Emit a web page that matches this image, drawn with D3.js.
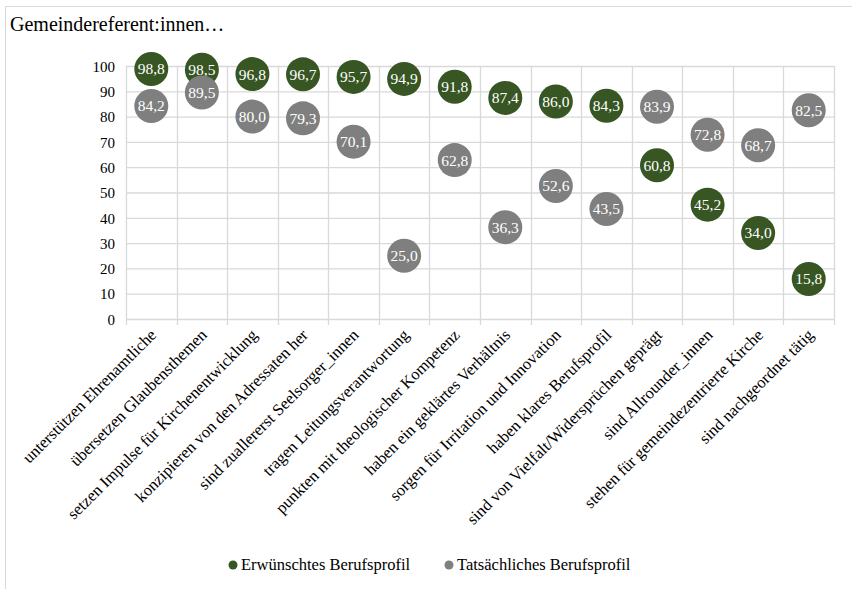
<!DOCTYPE html>
<html><head><meta charset="utf-8">
<script src="https://cdn.jsdelivr.net/npm/d3@7"></script>
<style>body{margin:0;background:#fff}svg{display:block}svg text{font-family:"Liberation Serif","Times New Roman",serif !important}</style>
</head><body><svg id="c" width="852" height="589"></svg>
<script>
const categories = ["unterstützen Ehrenamtliche","übersetzen Glaubensthemen","setzen Impulse für Kirchenentwicklung","konzipieren von den Adressaten her","sind zuallererst Seelsorger_innen","tragen Leitungsverantwortung","punkten mit theologischer Kompetenz","haben ein geklärtes Verhältnis","sorgen für Irritation und Innovation","haben  klares Berufsprofil","sind von Vielfalt/Widersprüchen geprägt","sind Allrounder_innen","stehen für gemeindezentrierte Kirche","sind nachgeordnet tätig"];
const desired = [98.8,98.5,96.8,96.7,95.7,94.9,91.8,87.4,86.0,84.3,60.8,45.2,34.0,15.8];
const actual = [84.2,89.5,80.0,79.3,70.1,25.0,62.8,36.3,52.6,43.5,83.9,72.8,68.7,82.5];
const yTicks = [0,10,20,30,40,50,60,70,80,90,100];
const seriesNames = ["Erwünschtes Berufsprofil","Tatsächliches Berufsprofil"];
const colors = ["#375623","#7f7f7f"];

const svg = d3.select("#c");
svg.append("path").attr("d","M5.5,589 V6.5 H852").attr("fill","none").attr("stroke","#d9d9d9");
svg.append("text").attr("x",10).attr("y",31).attr("font-size",20).attr("fill","#000").text("Gemeindereferent:innen…");

const x = d3.scaleBand().domain(categories).range([126,834]).padding(0);
const y = d3.scaleLinear().domain([0,100]).range([319,66]);
const grid = "#d9d9d9";

svg.append("g").selectAll("line").data(yTicks).join("line")
  .attr("x1",126).attr("x2",834).attr("y1",d=>y(d)+0.5).attr("y2",d=>y(d)+0.5)
  .attr("stroke",grid).attr("stroke-width",1.3);
const bounds = categories.map(c=>x(c)).concat([x.range()[1]]);
svg.append("g").selectAll("line").data(bounds).join("line")
  .attr("x1",d=>Math.round(d)+0.5).attr("x2",d=>Math.round(d)+0.5).attr("y1",y(100)).attr("y2",y(0)+6)
  .attr("stroke",grid).attr("stroke-width",1.3);

const yAxis = d3.axisLeft(y).tickValues(yTicks).tickSize(0).tickPadding(11);
const gy = svg.append("g").attr("transform","translate(126,0)").call(yAxis);
gy.select(".domain").remove();
gy.selectAll("text").attr("font-size",15).attr("fill","#000").attr("dy","0.35em");

const xAxis = d3.axisBottom(x).tickSize(0).tickPadding(0);
const gx = svg.append("g").attr("transform",`translate(0,${y(0)})`).call(xAxis);
gx.select(".domain").remove();
gx.selectAll("text").attr("font-size",16.5).attr("fill","#000")
  .attr("text-anchor","end").attr("dy",null).attr("y",null)
  .attr("transform","translate(6,17) rotate(-45)");

const series = [desired, actual];
series.forEach((vals,si)=>{
  const g = svg.append("g");
  g.selectAll("circle").data(vals).join("circle")
    .attr("cx",(d,i)=>x(categories[i])+x.bandwidth()/2).attr("cy",d=>y(d)).attr("r",17)
    .attr("fill",colors[si]);
  g.selectAll("text").data(vals).join("text")
    .attr("x",(d,i)=>x(categories[i])+x.bandwidth()/2).attr("y",d=>y(d)).attr("dy","0.35em")
    .attr("text-anchor","middle").attr("font-size",15.5).attr("fill","#fff")
    .text(d=>d.toFixed(1).replace(".",","));
});

const leg = svg.append("g");
const lx = [233,449];
seriesNames.forEach((n,i)=>{
  leg.append("circle").attr("cx",lx[i]).attr("cy",565).attr("r",4.5).attr("fill",colors[i]);
  leg.append("text").attr("x",lx[i]+8).attr("y",570).attr("font-size",16.5).attr("fill","#000").text(n);
});
</script></body></html>
